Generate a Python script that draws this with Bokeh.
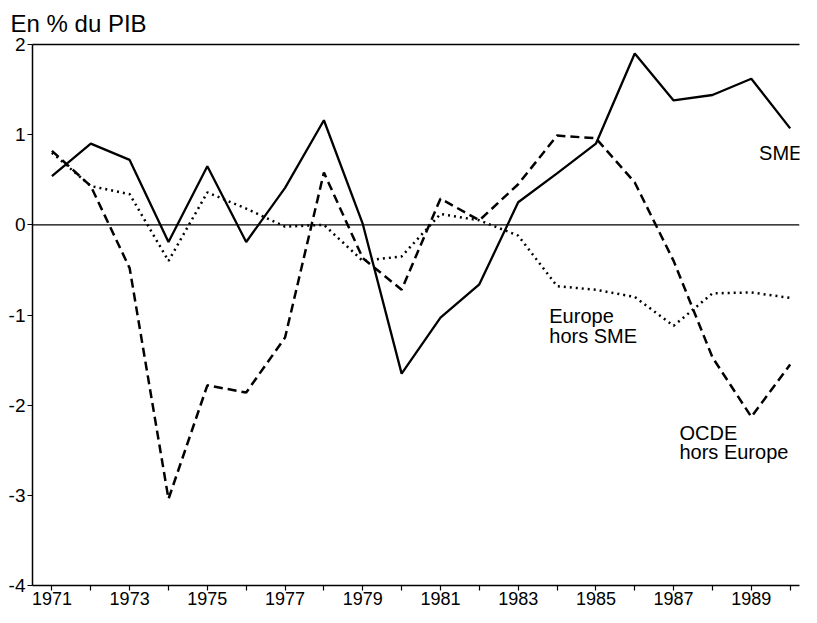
from bokeh.plotting import figure
from bokeh.models import Range1d, FixedTicker, LinearAxis, Label, Span
from bokeh.embed import file_html
from bokeh.resources import INLINE

years = list(range(1971, 1991))
sme = [0.54, 0.90, 0.72, -0.19, 0.65, -0.19, 0.41, 1.16, 0.01, -1.65,
       -1.03, -0.66, 0.25, 0.57, 0.90, 1.90, 1.38, 1.44, 1.62, 1.07]
ocde = [0.82, 0.43, -0.48, -3.04, -1.78, -1.86, -1.25, 0.58, -0.37, -0.72,
        0.29, 0.05, 0.45, 0.99, 0.96, 0.47, -0.40, -1.47, -2.13, -1.55]
europe = [0.80, 0.43, 0.34, -0.40, 0.36, 0.18, -0.02, 0.00, -0.40, -0.35,
          0.12, 0.05, -0.12, -0.68, -0.72, -0.80, -1.12, -0.76, -0.75, -0.81]

odd_years = [y for y in years if y % 2 == 1]
even_years = [y for y in years if y % 2 == 0]
y_ticks = [-4, -3, -2, -1, 0, 1, 2]
y_labels = {t: str(t) for t in y_ticks}

FONT = "Liberation Sans"

p = figure(width=801, height=607, output_backend="svg", toolbar_location=None,
           x_range=Range1d(1970.5, 1990.24), y_range=Range1d(-4, 2),
           min_border_left=32, min_border_right=2, min_border_top=10,
           min_border_bottom=20, title="En % du PIB")
p.title.text_font = FONT
p.title.text_font_size = "24px"
p.title.text_font_style = "normal"
p.title.text_color = "black"
p.title.align = "left"
p.title.offset = -22
p.title.standoff = 15
p.outline_line_color = None
p.grid.visible = False
p.background_fill_color = "white"
p.border_fill_color = "white"

xa = p.xaxis[0]
xa.ticker = FixedTicker(ticks=odd_years, minor_ticks=even_years)
xa.axis_line_width = 1.5
xa.major_tick_out = 5
xa.major_tick_in = 0
xa.minor_tick_out = 5
xa.minor_tick_in = 0
xa.major_tick_line_width = 1.2
xa.minor_tick_line_width = 1.2
xa.major_label_text_font = FONT
xa.major_label_text_font_size = "18px"
xa.major_label_text_color = "black"
xa.major_label_standoff = 1

ya = p.yaxis[0]
ya.ticker = FixedTicker(ticks=y_ticks)
ya.major_label_overrides = y_labels
ya.axis_line_width = 1.5
ya.major_tick_out = 5
ya.major_tick_in = 0
ya.minor_tick_line_color = None
ya.major_label_text_font = FONT
ya.major_label_text_font_size = "19px"
ya.major_label_text_color = "black"
ya.major_label_standoff = 2

top = LinearAxis(ticker=FixedTicker(ticks=[]), major_label_text_font_size="0px",
                 major_tick_line_color=None, minor_tick_line_color=None,
                 axis_line_width=1.3)
p.add_layout(top, "above")

p.add_layout(Span(location=0, dimension="width", line_color="black", line_width=1.3))

p.line(years, sme, line_color="black", line_width=2.3)
p.line(years, ocde, line_color="black", line_width=2.5, line_dash="9 5")
p.line(years, europe, line_color="black", line_width=2.5, line_dash="2 4")

def lab(x, y, t, size="20px"):
    p.add_layout(Label(x=x, y=y, text=t, text_font=FONT, text_font_size=size,
                       text_color="black", text_baseline="alphabetic", text_align="left"))

lab(1989.2, 0.80, "SME")
lab(1983.8, -1.01, "Europe")
lab(1983.8, -1.23, "hors SME")
lab(1987.15, -2.31, "OCDE")
lab(1987.15, -2.52, "hors Europe")

open("out.html", "w").write(file_html(p, INLINE))
